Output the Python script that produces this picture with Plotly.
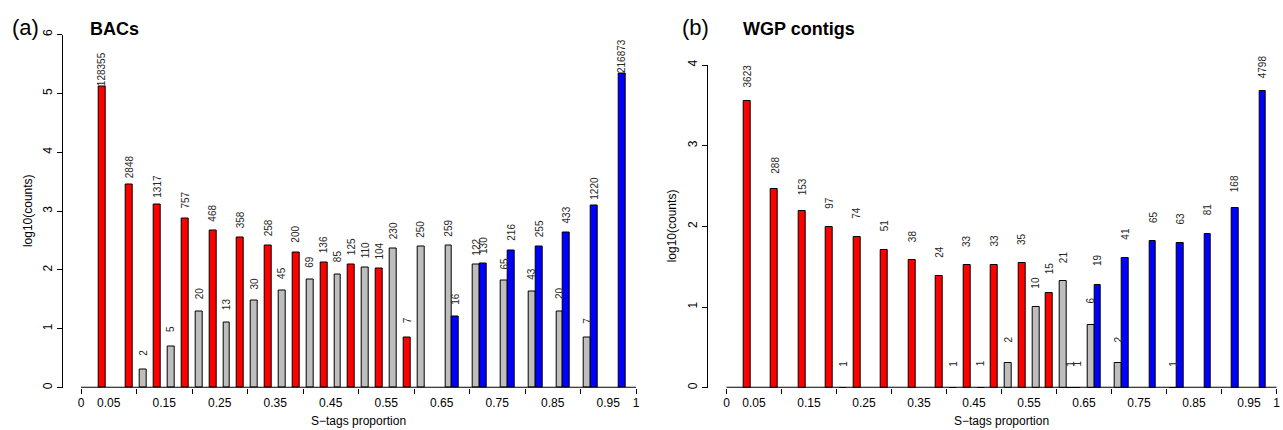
import numpy as np
import plotly.graph_objects as go

# ---------------- data ----------------
bin_starts = [0.00, 0.05, 0.10, 0.15, 0.20, 0.25, 0.30, 0.35, 0.40, 0.45,
              0.50, 0.55, 0.60, 0.65, 0.70, 0.75, 0.80, 0.85, 0.90, 0.95]

bac_gray = [None, None, 2, 5, 20, 13, 30, 45, 69, 85,
            110, 230, 250, 259, 122, 65, 43, 20, 7, None]
bac_blue = [None, None, None, None, None, None, None, None, None, None,
            None, None, None, 16, 130, 216, 255, 433, 1220, 216873]
bac_red = [128355, 2848, 1317, 757, 468, 358, 258, 200, 136, 125,
           104, 7, None, None, None, None, None, None, None, None]

wgp_gray = [None, None, None, None, 1, None, None, None, 1, 1,
            2, 10, 21, 6, 2, None, 1, None, None, None]
wgp_blue = [None, None, None, None, None, None, None, None, None, None,
            None, None, 1, 19, 41, 65, 63, 81, 168, 4798]
wgp_red = [3623, 288, 153, 97, 74, 51, 38, 24, 33, 33,
           35, 15, 1, None, None, None, None, None, None, None]

x_label_vals = [0, 0.05, 0.15, 0.25, 0.35, 0.45, 0.55, 0.65, 0.75, 0.85, 0.95, 1]
x_label_text = ["0", "0.05", "0.15", "0.25", "0.35", "0.45", "0.55", "0.65", "0.75", "0.85", "0.95", "1"]
x_tick_vals = [0, 0.1, 0.2, 0.3, 0.4, 0.5, 0.6, 0.7, 0.8, 0.9, 1.0]

# ---------------- layout helpers ----------------
W, H = 1283, 430
def fx(px):
    return px / W
def fy(py):
    return 1 - py / H

BAR_W = 0.0125
GRAY = "#BEBEBE"
RED = "#FF0000"
BLUE = "#0000FF"
FONT = "Liberation Sans, Arial, Helvetica, sans-serif"

fig = go.Figure()
annotations = []

def add_panel(gray, blue, red, xa, ya, label_off):
    series = [(gray, GRAY, 1), (blue, BLUE, 2), (red, RED, 3)]
    for counts, color, slot in series:
        xs, ys, cs = [], [], []
        for b, c in zip(bin_starts, counts):
            if c is None:
                continue
            xs.append(b + slot * BAR_W)
            ys.append(float(np.log10(c)))
            cs.append(c)
        fig.add_trace(go.Bar(
            x=xs, y=ys, width=BAR_W, xaxis=xa, yaxis=ya,
            marker=dict(color=color, line=dict(color="black", width=1)),
            showlegend=False, hoverinfo="skip"))
        for x, y, c in zip(xs, ys, cs):
            annotations.append(dict(
                x=x, y=y + label_off, xref=xa, yref=ya, text=str(c),
                showarrow=False, textangle=-90, xanchor="center", yanchor="middle",
                font=dict(size=10, color="#262626", family=FONT)))

add_panel(bac_gray, bac_blue, bac_red, "x", "y", 0.3)
add_panel(wgp_gray, wgp_blue, wgp_red, "x2", "y2", 0.3)
fig.add_trace(go.Scatter(x=[None], y=[None], xaxis="x3", yaxis="y", showlegend=False, hoverinfo="skip"))
fig.add_trace(go.Scatter(x=[None], y=[None], xaxis="x4", yaxis="y2", showlegend=False, hoverinfo="skip"))

# panel geometry (pixels)
a_left, a_right, a_x0, a_scale = 62.7, 650, 81, 555.0
b_left, b_right, b_x0, b_scale = 707.7, 1282, 726.5, 550.0
a_top, b_top, bottom = 30, 61, 389

a_range = [(a_left - a_x0) / a_scale, (a_right - a_x0) / a_scale]
b_range = [(b_left - b_x0) / b_scale, (b_right - b_x0) / b_scale]

tickfont = dict(size=12, color="black", family=FONT)

def xaxis_main(dom, rng, anchor):
    return dict(domain=dom, range=rng, anchor=anchor, tickvals=x_label_vals, ticktext=x_label_text,
                ticks="", showline=False, showgrid=False, zeroline=False, tickfont=tickfont,
                ticklabelstandoff=6, fixedrange=True)

def xaxis_ticks(dom, rng, anchor, over):
    return dict(domain=dom, range=rng, anchor=anchor, overlaying=over, tickvals=x_tick_vals,
                ticks="outside", ticklen=5, tickwidth=1, tickcolor="black", showticklabels=False,
                showline=False, showgrid=False, zeroline=False)

def yaxis(dom, rng, anchor):
    return dict(domain=dom, range=rng, anchor=anchor, dtick=1, tick0=0, ticks="outside", ticklen=5,
                tickwidth=1, tickcolor="black", showline=True, linecolor="black", linewidth=1,
                showgrid=False, zeroline=False, tickangle=-90, tickfont=tickfont)

fig.update_layout(
    width=W, height=H, margin=dict(l=0, r=0, t=0, b=0), autosize=False,
    paper_bgcolor="white", plot_bgcolor="white", barmode="overlay", bargap=0,
    xaxis=xaxis_main([fx(a_left), fx(a_right)], a_range, "y"),
    xaxis2=xaxis_main([fx(b_left), fx(b_right)], b_range, "y2"),
    xaxis3=xaxis_ticks([fx(a_left), fx(a_right)], a_range, "y", "x"),
    xaxis4=xaxis_ticks([fx(b_left), fx(b_right)], b_range, "y2", "x2"),
    yaxis=yaxis([fy(bottom), fy(a_top)], [0, 6], "x"),
    yaxis2=yaxis([fy(bottom), fy(b_top)], [0, 4], "x2"),
    font=dict(family=FONT),
)

# baseline axis line from 0 to 1
for xr, yr in (("x", "y"), ("x2", "y2")):
    fig.add_shape(type="line", x0=0, x1=1, y0=0, y1=0, xref=xr, yref=yr,
                  line=dict(color="black", width=1.8), layer="above")

def txt(x, y, text, size, xref="paper", angle=0, xanchor="center"):
    return dict(x=x, y=y, xref=xref, yref="paper", text=text, showarrow=False,
                xanchor=xanchor, yanchor="middle", textangle=angle,
                font=dict(size=size, color="black", family=FONT))

# titles and axis titles
annotations += [
    txt(fx(25), fy(23), "(a)", 22),
    txt(fx(88), fy(24), "<b>BACs</b>", 18, xanchor="left"),
    txt(fx(695), fy(23), "(b)", 22),
    txt(fx(741), fy(24), "<b>WGP contigs</b>", 18, xanchor="left"),
    txt(fx(28), fy((a_top + bottom) / 2), "log10(counts)", 12, angle=-90),
    txt(fx(672), fy((b_top + bottom) / 2), "log10(counts)", 12, angle=-90),
    txt(0.5, fy(423), "S\u2212tags proportion", 12, xref="x"),
    txt(0.5, fy(423), "S\u2212tags proportion", 12, xref="x2"),
]
fig.update_layout(annotations=annotations)

fig.write_html("out.html", config={"displayModeBar": False},
               post_script="document.body.style.margin='0';document.body.style.overflow='hidden';")
